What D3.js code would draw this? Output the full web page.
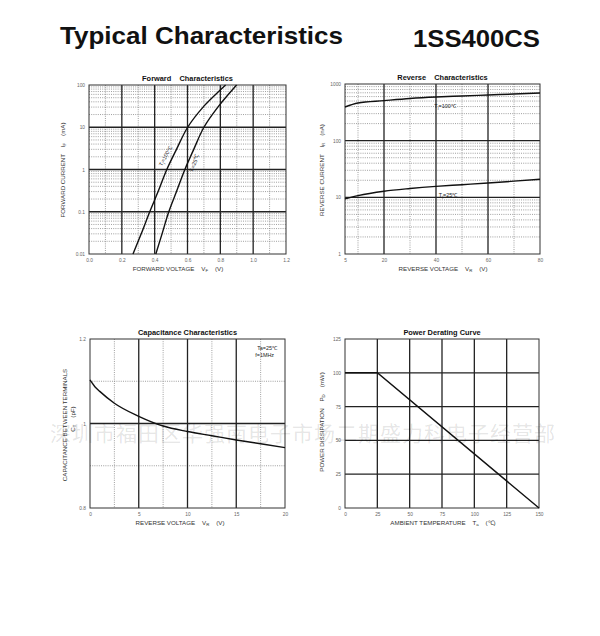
<!DOCTYPE html>
<html>
<head>
<meta charset="utf-8">
<script src="https://d3js.org/d3.v7.min.js"></script>
<style>
	body { margin: 0; background: #fff; }
	svg { display: block; font-family: 'Liberation Sans', Arial, sans-serif; }
	.tick text { fill: #666; }
</style>
</head>
<body>
<svg width="600" height="636"></svg>
<script>
'use strict'

// Forward characteristics: current points (mA) and voltage (V) per junction temp
let fwd_i = [0.01, 0.03, 0.1, 0.3, 1, 3, 10, 30, 100],
	fwd_v100 = [0.268, 0.318, 0.370, 0.421, 0.474, 0.533, 0.601, 0.695, 0.832],
	fwd_v25 = [0.407, 0.445, 0.486, 0.533, 0.584, 0.638, 0.700, 0.785, 0.899],
	fwd_xticks = ['0.0', '0.2', '0.4', '0.6', '0.8', '1.0', '1.2'],
	fwd_yticks = ['0.01', '0.1', '1', '10', '100']

// Reverse characteristics: voltage (V) vs current (nA)
let rev_v = [5, 10, 20, 30, 40, 50, 60, 70, 80],
	rev_i100 = [393, 462, 508, 555, 590, 615, 640, 665, 694],
	rev_i25 = [9.4, 10.7, 12.8, 14.3, 15.6, 16.7, 17.9, 19.3, 20.9],
	rev_xticks = [5, 20, 40, 60, 80],
	rev_yticks = [1, 10, 100, 1000]

// Capacitance: reverse voltage (V) vs pF
let cap_v = [0, 0.5, 1, 2.5, 5, 7.5, 10, 12.5, 15, 17.5, 20],
	cap_c = [1.103, 1.087, 1.076, 1.048, 1.017, 0.994, 0.981, 0.971, 0.961, 0.952, 0.943],
	cap_xticks = [0, 5, 10, 15, 20],
	cap_yticks = ['0.8', '1', '1.2']

// Power derating: ambient temp (°C) vs mW
let pwr_t = [0, 25, 150],
	pwr_p = [100, 100, 0],
	pwr_xticks = [0, 25, 50, 75, 100, 125, 150],
	pwr_yticks = [0, 25, 50, 75, 100, 125]

let watermark = '深圳市福田区华强南电子市场二期盛力科电子经营部'

let svg = d3.select('svg')

svg.append('text').attr('x', 60).attr('y', 44).attr('textLength', 283)
	.attr('lengthAdjust', 'spacingAndGlyphs')
	.attr('font-size', 24.5).attr('font-weight', 'bold').attr('fill', '#111')
	.text('Typical Characteristics')
svg.append('text').attr('x', 413).attr('y', 47).attr('textLength', 127)
	.attr('lengthAdjust', 'spacingAndGlyphs')
	.attr('font-size', 24.5).attr('font-weight', 'bold').attr('fill', '#111')
	.text('1SS400CS')

// label with subscript parts: [[text, sub], ...]; dy of the part after a sub goes back up
let rich = (sel, parts) => {
	let back = null
	parts.forEach(([t, sub]) => {
		sel.append('tspan').attr('dy', back).text(t)
		back = null
		if (sub) {
			sel.append('tspan').attr('font-size', '0.7em').attr('dy', '0.3em').text(sub)
			back = '-0.21em' } }) }

let panel = p => {
	let g = svg.append('g'),
		x = (p.xlog ? d3.scaleLog() : d3.scaleLinear()).domain(p.xd).range([p.x0, p.x1]),
		y = (p.ylog ? d3.scaleLog() : d3.scaleLinear()).domain(p.yd).range([p.y1, p.y0])

	// grid
	let hline = (v, cls) => g.append('line').attr('x1', p.x0).attr('x2', p.x1)
			.attr('y1', y(v)).attr('y2', y(v)).call(cls),
		vline = (v, cls) => g.append('line').attr('y1', p.y0).attr('y2', p.y1)
			.attr('x1', x(v)).attr('x2', x(v)).call(cls),
		major = s => s.attr('stroke', '#222').attr('stroke-width', 1.3),
		minor = s => s.attr('stroke', '#777').attr('stroke-width', 0.7).attr('stroke-dasharray', '1,1.2')
	p.xminor.forEach(v => vline(v, minor))
	p.yminor.forEach(v => hline(v, minor))
	p.xmajor.forEach(v => vline(v, major))
	p.ymajor.forEach(v => hline(v, major))
	g.append('rect').attr('x', p.x0).attr('y', p.y0)
		.attr('width', p.x1 - p.x0).attr('height', p.y1 - p.y0)
		.attr('fill', 'none').attr('stroke', '#333').attr('stroke-width', 1)

	// axes
	g.append('g').attr('transform', `translate(0 ${p.y1})`)
		.call(d3.axisBottom(x).tickValues(p.xticks.map(Number)).tickSize(0).tickPadding(5)
			.tickFormat((d, i) => p.xticks[i]))
		.call(s => s.select('.domain').remove())
		.selectAll('text').attr('font-size', 4.8)
	g.append('g').attr('transform', `translate(${p.x0} 0)`)
		.call(d3.axisLeft(y).tickValues(p.yticks.map(Number)).tickSize(0).tickPadding(4)
			.tickFormat((d, i) => p.yticks[i]))
		.call(s => s.select('.domain').remove())
		.selectAll('text').attr('font-size', 4.8)

	g.append('text').attr('x', (p.x0 + p.x1) / 2).attr('y', p.y0 - 4)
		.attr('text-anchor', 'middle').attr('font-size', 7.4).attr('font-weight', 'bold')
		.attr('fill', '#111').attr('xml:space', 'preserve').text(p.title)
	g.append('text').attr('x', p.xlx).attr('y', p.y1 + 17).attr('text-anchor', 'middle')
		.attr('font-size', 6.2).attr('fill', '#333').attr('xml:space', 'preserve')
		.call(s => rich(s, p.xlabel))
	p.ylabel.forEach((lab, n) => g.append('text')
		.attr('transform', `translate(${p.ylx + n * 8} ${p.yly - n * 6}) rotate(-90)`)
		.attr('text-anchor', 'middle').attr('font-size', 6.2).attr('fill', '#333')
		.attr('xml:space', 'preserve').call(s => rich(s, lab)))

	p.series.forEach(([xs, ys]) => g.append('path')
		.datum(d3.zip(xs, ys)).attr('fill', 'none').attr('stroke', '#111')
		.attr('stroke-width', 1.4)
		.attr('d', d3.line().x(d => x(d[0])).y(d => y(d[1])).curve(p.curve || d3.curveLinear)))
	return {g, x, y}
}

let log_minor = (lo, hi) => d3.range(Math.log10(lo), Math.log10(hi))
	.flatMap(e => d3.range(2, 10).map(k => k * 10 ** e))

// Forward
let fwd = panel({
	x0: 89, x1: 286, y0: 85, y1: 254, xd: [0, 1.2], yd: [0.01, 100], ylog: true,
	xmajor: [0.2, 0.4, 0.6, 0.8, 1.0], xminor: [0.1, 0.3, 0.5, 0.7, 0.9, 1.1],
	ymajor: [0.1, 1, 10], yminor: log_minor(0.01, 100),
	xticks: fwd_xticks, yticks: fwd_yticks,
	title: 'Forward    Characteristics',
	xlabel: [['FORWARD VOLTAGE    V', 'F'], ['    (V)']], xlx: 178,
	ylabel: [[['FORWARD CURRENT    I', 'F'], ['    (mA)']]], ylx: 65, yly: 170,
	series: [[fwd_v100, fwd_i], [fwd_v25, fwd_i]], curve: d3.curveCatmullRom.alpha(0.5) })
fwd.g.append('text').attr('transform', 'translate(167 157) rotate(-62)')
	.attr('text-anchor', 'middle').attr('font-size', 5.4).attr('fill', '#222')
	.call(s => rich(s, [['T', 'j'], ['=100℃']]))
fwd.g.append('text').attr('transform', 'translate(196 164) rotate(-70)')
	.attr('text-anchor', 'middle').attr('font-size', 5.4).attr('fill', '#222')
	.call(s => rich(s, [['T', 'j'], ['=25℃']]))

// Reverse
let rev = panel({
	x0: 345, x1: 540, y0: 84, y1: 254, xd: [5, 80], yd: [1, 1000], ylog: true,
	xmajor: [20, 40, 60], xminor: [10, 30, 50, 70],
	ymajor: [10, 100], yminor: log_minor(1, 1000),
	xticks: rev_xticks, yticks: rev_yticks,
	title: 'Reverse    Characteristics',
	xlabel: [['REVERSE VOLTAGE    V', 'R'], ['    (V)']], xlx: 443,
	ylabel: [[['REVERSE CURRENT    I', 'R'], ['    (nA)']]], ylx: 324, yly: 170,
	series: [[rev_v, rev_i100], [rev_v, rev_i25]], curve: d3.curveMonotoneX })
rev.g.append('text').attr('x', 445).attr('y', 108).attr('text-anchor', 'middle')
	.attr('font-size', 5.4).attr('fill', '#222').call(s => rich(s, [['T', 'j'], ['=100℃']]))
rev.g.append('text').attr('x', 448).attr('y', 197).attr('text-anchor', 'middle')
	.attr('font-size', 5.4).attr('fill', '#222').call(s => rich(s, [['T', 'j'], ['=25℃']]))

// Capacitance
let cap = panel({
	x0: 90, x1: 285, y0: 339, y1: 508, xd: [0, 20], yd: [0.8, 1.2],
	xmajor: [5, 10, 15], xminor: [2.5, 7.5, 12.5, 17.5],
	ymajor: [1.0], yminor: [0.9, 1.1],
	xticks: cap_xticks, yticks: cap_yticks,
	title: 'Capacitance Characteristics',
	xlabel: [['REVERSE VOLTAGE    V', 'R'], ['    (V)']], xlx: 180,
	ylabel: [[['CAPACITANCE BETWEEN TERMINALS']], [['C', 'T'], ['    (pF)']]],
	ylx: 67, yly: 425,
	series: [[cap_v, cap_c]], curve: d3.curveMonotoneX })
cap.g.append('text').attr('x', 277).attr('y', 350).attr('text-anchor', 'end')
	.attr('font-size', 5.4).attr('fill', '#222').text('Ta=25℃')
cap.g.append('text').attr('x', 274).attr('y', 357).attr('text-anchor', 'end')
	.attr('font-size', 5.4).attr('fill', '#222').text('f=1MHz')

// Power derating
panel({
	x0: 345, x1: 539, y0: 339, y1: 508, xd: [0, 150], yd: [0, 125],
	xmajor: [25, 50, 75, 100, 125], xminor: [],
	ymajor: [25, 50, 75, 100], yminor: [],
	xticks: pwr_xticks, yticks: pwr_yticks,
	title: 'Power Derating Curve',
	xlabel: [['AMBIENT TEMPERATURE    T', 'a'], ['    (℃)']], xlx: 443,
	ylabel: [[['POWER DISSIPATION    P', 'D'], ['    (mW)']]], ylx: 324, yly: 422,
	series: [[pwr_t, pwr_p]] })

// faint shop watermark across the lower panels
svg.append('text').attr('x', 50).attr('y', 441).attr('textLength', 505)
	.attr('font-family', "'Noto Sans CJK SC', sans-serif").attr('font-size', 21)
	.attr('fill', '#000').attr('fill-opacity', 0.11).text(watermark)
</script>
</body>
</html>
